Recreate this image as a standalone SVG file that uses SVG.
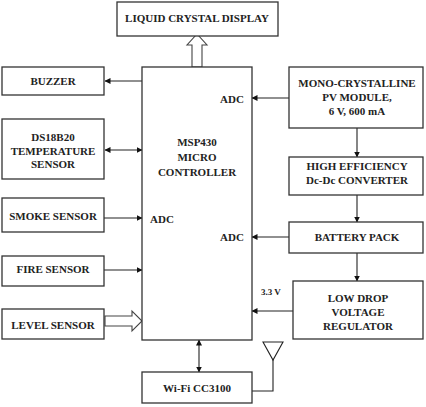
<svg xmlns="http://www.w3.org/2000/svg" width="426" height="407" viewBox="0 0 426 407">
<defs>
<marker id="ah" markerWidth="6" markerHeight="6" refX="5.5" refY="3" orient="auto-start-reverse" markerUnits="userSpaceOnUse"><path d="M0,0 L6,3 L0,6 Z" fill="#111"/></marker>
<style>
.box{fill:#fff;stroke:#333;stroke-width:1.3}
.t{font-family:"Liberation Serif","Times New Roman",serif;font-weight:bold;font-size:11px;fill:#222;text-anchor:middle}
.l{font-family:"Liberation Serif","Times New Roman",serif;font-weight:bold;font-size:11px;fill:#222}
.c{fill:none;stroke:#222;stroke-width:1.1}
.o{fill:#fff;stroke:#444;stroke-width:1.1}
</style>
</defs>
<rect width="426" height="407" fill="#fff"/>
<g id="connectors">
<path class="o" d="M192,67 L192,45 L187,45 L197,34 L207,45 L202,45 L202,67 Z"/>
<line class="c" x1="142" y1="81" x2="105" y2="81" marker-end="url(#ah)"/>
<line class="c" x1="105" y1="150" x2="142" y2="150" marker-start="url(#ah)" marker-end="url(#ah)"/>
<line class="c" x1="104" y1="218" x2="142" y2="218" marker-end="url(#ah)"/>
<line class="c" x1="104" y1="270" x2="142" y2="270" marker-end="url(#ah)"/>
<path class="o" d="M105,316 L132,316 L132,311 L142,321 L132,331 L132,326 L105,326 Z"/>
<line class="c" x1="199" y1="340" x2="199" y2="372" marker-start="url(#ah)" marker-end="url(#ah)"/>
<polyline class="c" points="252,391 273,391 273,359"/>
<path class="c" d="M263,342 L283,342 L273,360 Z" stroke="#666"/>
<line class="c" x1="289" y1="98" x2="252" y2="98" marker-end="url(#ah)"/>
<line class="c" x1="357" y1="128" x2="357" y2="157" marker-end="url(#ah)"/>
<line class="c" x1="357" y1="195" x2="357" y2="222" marker-end="url(#ah)"/>
<line class="c" x1="289" y1="237" x2="252" y2="237" marker-end="url(#ah)"/>
<line class="c" x1="357" y1="253" x2="357" y2="281" marker-end="url(#ah)"/>
<line class="c" x1="293" y1="311" x2="252" y2="311" marker-end="url(#ah)"/>
<text class="l" x="261" y="295" style="font-size:9px">3.3 V</text>
</g>
<g id="lcd"><rect class="box" x="117" y="2" width="161" height="34"/><text class="t" x="197" y="22">LIQUID CRYSTAL DISPLAY</text></g>
<g id="mcu"><rect class="box" x="142" y="67" width="110" height="273"/>
<text class="t" x="197" y="146">MSP430</text><text class="t" x="197" y="161">MICRO</text><text class="t" x="197" y="176">CONTROLLER</text>
<text class="l" x="150" y="223">ADC</text><text class="l" x="220" y="103">ADC</text><text class="l" x="220" y="241">ADC</text></g>
<g id="buzzer"><rect class="box" x="2" y="67" width="102" height="28"/><text class="t" x="53" y="85">BUZZER</text></g>
<g id="temp"><rect class="box" x="2" y="119" width="102" height="60"/><text class="t" x="53" y="141">DS18B20</text><text class="t" x="53" y="155">TEMPERATURE</text><text class="t" x="53" y="168">SENSOR</text></g>
<g id="smoke"><rect class="box" x="2" y="198" width="102" height="34"/><text class="t" x="53" y="220">SMOKE SENSOR</text></g>
<g id="fire"><rect class="box" x="2" y="256" width="102" height="30"/><text class="t" x="53" y="273">FIRE SENSOR</text></g>
<g id="level"><rect class="box" x="2" y="309" width="102" height="30"/><text class="t" x="53" y="329">LEVEL SENSOR</text></g>
<g id="wifi"><rect class="box" x="142" y="372" width="110" height="31"/><text class="t" x="197" y="392">Wi-Fi CC3100</text></g>
<g id="pv"><rect class="box" x="289" y="67" width="134" height="61"/><text class="t" x="357" y="87">MONO-CRYSTALLINE</text><text class="t" x="357" y="101">PV MODULE,</text><text class="t" x="357" y="115">6 V, 600 mA</text></g>
<g id="dcdc"><rect class="box" x="289" y="157" width="134" height="38"/><text class="t" x="357" y="170">HIGH EFFICIENCY</text><text class="t" x="357" y="184">Dc-Dc CONVERTER</text></g>
<g id="battery"><rect class="box" x="289" y="222" width="134" height="31"/><text class="t" x="357" y="241">BATTERY PACK</text></g>
<g id="ldo"><rect class="box" x="293" y="281" width="130" height="58"/><text class="t" x="358" y="302">LOW DROP</text><text class="t" x="358" y="316">VOLTAGE</text><text class="t" x="358" y="330">REGULATOR</text></g>
</svg>
